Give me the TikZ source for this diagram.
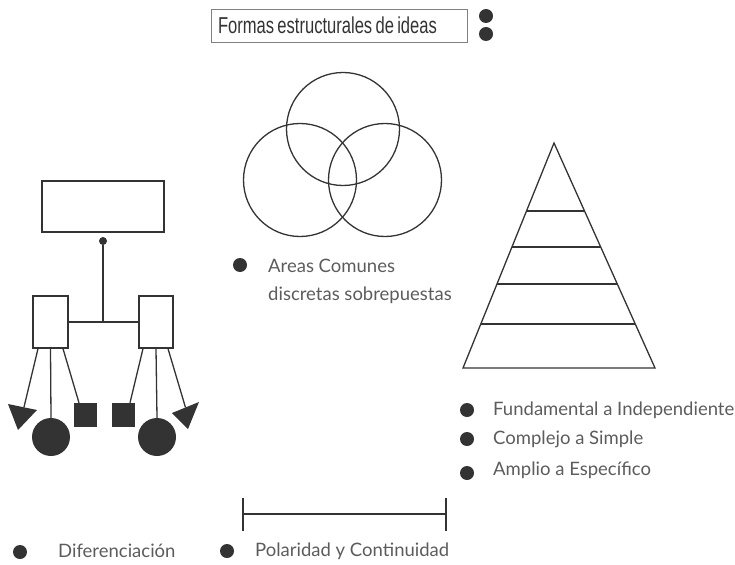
\documentclass[tikz,border=0pt]{standalone}
\usepackage{fontspec}
\setmainfont{Lato}
\newfontfamily\titlefont[FakeStretch=0.72]{Liberation Sans}
\usetikzlibrary{calc}
\definecolor{ink}{HTML}{333333}
\definecolor{txt}{HTML}{5c5c5c}
\tikzset{
  ln/.style={draw=ink, line width=1.3pt},
  box/.style={draw=ink, line width=1.3pt, fill=white, inner sep=0pt, rectangle},
  blob/.style={circle, fill=ink, inner sep=0pt},
  sq/.style={rectangle, fill=ink, inner sep=0pt},
  bul/.style={circle, fill=ink, inner sep=0pt, minimum size=14pt},
  lbl/.style={anchor=west, text=txt, inner sep=0pt, font=\fontsize{18.5}{20}\selectfont},
  venn/.style={draw=ink, line width=1.3pt, circle, inner sep=0pt, minimum size=113pt}
}
\begin{document}
\begin{tikzpicture}[x=1pt,y=-1pt]
\useasboundingbox (0,0) rectangle (735,564);
% title
\node[draw=gray, line width=0.8pt, text width=242pt, inner xsep=7pt, minimum height=33pt, inner ysep=0pt, text=ink, align=left] (title) at (339,25.5) {\titlefont\fontsize{23}{24}\selectfont Formas estructurales de ideas};
\node[blob, minimum size=14pt] (td1) at (486,16) {};
\node[blob, minimum size=14pt] (td2) at (486,34) {};
% left tree
\node[box, minimum width=122pt, minimum height=51pt] (top) at (103,206.5) {};
\node[blob, minimum size=8pt] (tdot) at (103,241) {};
\node[box, minimum width=35pt, minimum height=52pt] (L) at (50.5,322) {};
\node[box, minimum width=34pt, minimum height=52pt] (R) at (156,322) {};
\coordinate (j) at (103,322);
\draw[ln] (tdot) -- (j);
\draw[ln] (L.east) -- (R.west);
\node[blob, minimum size=38pt] (CL) at (51,437) {};
\node[blob, minimum size=38pt] (CR) at (157,437) {};
\node[sq, minimum width=23pt, minimum height=24pt] (SL) at (85.5,415) {};
\node[sq, minimum width=23pt, minimum height=24pt] (SR) at (123,415) {};
\coordinate (TLa) at (8,404); \coordinate (TLb) at (37,410); \coordinate (TLc) at (18,430);
\coordinate (TRa) at (199,402); \coordinate (TRb) at (172,413); \coordinate (TRc) at (188,429);
\fill[ink] (TLa) -- (TLb) -- (TLc) -- cycle;
\fill[ink] (TRa) -- (TRb) -- (TRc) -- cycle;
\draw[ln] ([xshift=-12.5pt]L.south) -- ($(TLa)!0.55!(TLb)$);
\draw[ln] (L.south) -- (CL.north);
\draw[ln] ([xshift=12.5pt]L.south) -- ([xshift=-6.5pt]SL.north);
\draw[ln] ([xshift=-13pt]R.south) -- ([xshift=7pt]SR.north);
\draw[ln] (R.south) -- (CR.north);
\draw[ln] ([xshift=12pt]R.south) -- ($(TRa)!0.5!(TRb)$);
% venn
\node[venn] (v1) at (343,129) {};
\node[venn] (v2) at (300,180) {};
\node[venn] (v3) at (385,180) {};
\node[bul] (b1) at (240,265) {};
\node[lbl] (t1) at (268,266) {Areas Comunes};
\node[lbl] (t1b) at (268,295) {discretas sobrepuestas};
% pyramid
\coordinate (A) at (554,143);
\coordinate (BL) at (463,368);
\coordinate (BR) at (655,368);
\draw[ln, line join=miter] (A) -- (BL) -- (BR) -- cycle;
\foreach \t in {0.302,0.462,0.627,0.804}{
  \draw[ln] ($(A)!\t!(BL)$) -- ($(A)!\t!(BR)$);
}
\node[bul] (b2) at (467,410) {};
\node[lbl] (t2) at (493,410) {Fundamental a Independiente};
\node[bul] (b3) at (467,439) {};
\node[lbl] (t3) at (493,439) {Complejo a Simple};
\node[bul] (b4) at (467,473) {};
\node[lbl] (t4) at (493,470) {Amplio a Específico};
% polarity
\coordinate (p1) at (243,514);
\coordinate (p2) at (446,514);
\draw[ln] (p1) -- (p2);
\draw[ln] ([yshift=-17pt]p1) -- ([yshift=16pt]p1);
\draw[ln] ([yshift=-17pt]p2) -- ([yshift=16pt]p2);
% bottom labels
\node[bul] (b5) at (20,552) {};
\node[lbl] (t5) at (58,551) {Diferenciación};
\node[bul] (b6) at (227,551) {};
\node[lbl] (t6) at (255,551) {Polaridad y Continuidad};
\end{tikzpicture}
\end{document}
